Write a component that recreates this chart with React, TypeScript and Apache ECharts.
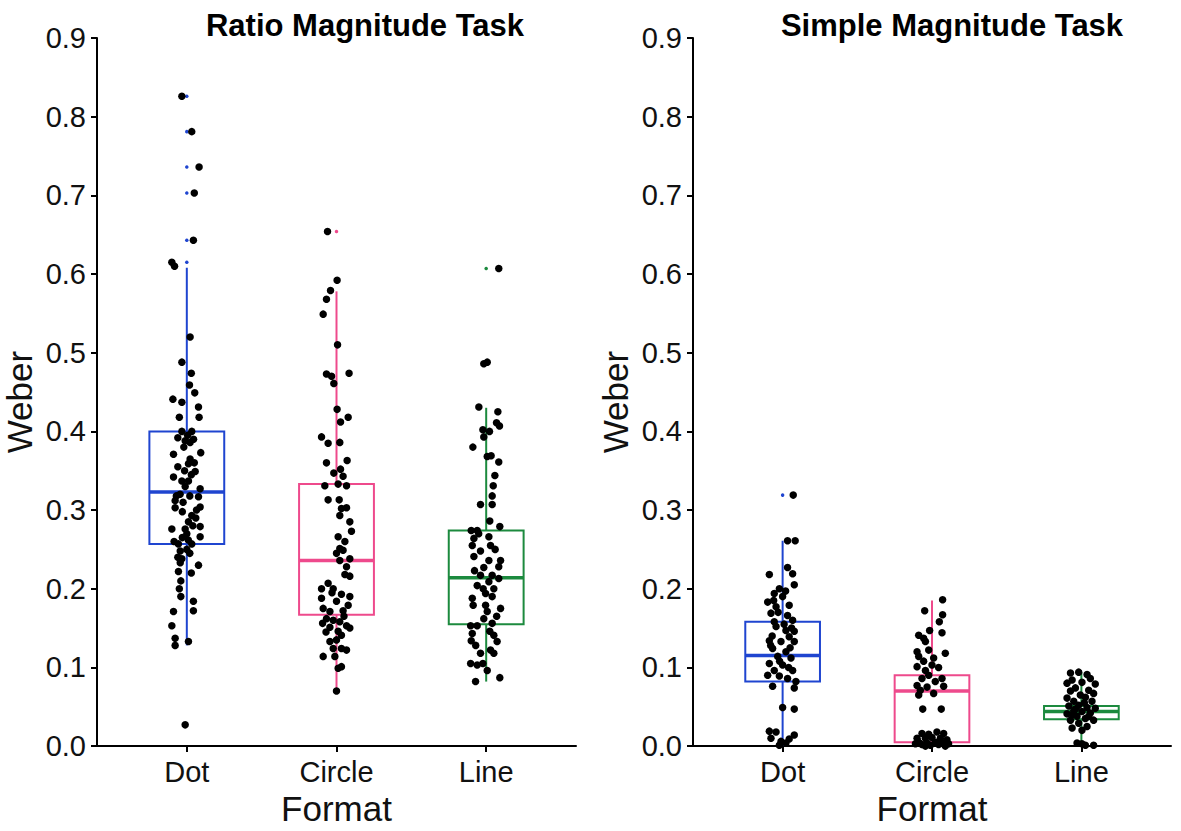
import React, { useEffect, useRef } from "react";
import * as echarts from "echarts";

const categories = ["Dot", "Circle", "Line"];
const panelTitles = ["Ratio Magnitude Task", "Simple Magnitude Task"];
const yAxisTitle = "Weber";
const xAxisTitle = "Format";

// box statistics: [lower whisker, Q1, median, Q3, upper whisker]
const ratioBoxes = [
  [0.128, 0.257, 0.323, 0.4, 0.608],
  [0.07, 0.167, 0.236, 0.333, 0.578],
  [0.082, 0.155, 0.214, 0.274, 0.43],
];
const simpleBoxes = [
  [0.0, 0.082, 0.115, 0.158, 0.261],
  [0.0, 0.005, 0.07, 0.09, 0.185],
  [0.0, 0.034, 0.044, 0.051, 0.094],
];
// outliers: [category index, value]
const ratioOutliers = [
  [0, 0.826], [0, 0.781], [0, 0.736], [0, 0.703], [0, 0.643], [0, 0.615],
  [1, 0.654],
  [2, 0.607],
];
const simpleOutliers = [[0, 0.319]];

// jittered observations: [horizontal jitter (category units), Weber]
const ratioDot = [
  [-0.033, 0.826], [0.033, 0.781], [0.082, 0.736], [0.05, 0.703], [0.044, 0.643], [-0.1, 0.615], [-0.082, 0.61],
  [0.022, 0.52], [-0.033, 0.488], [0.03, 0.474], [0.018, 0.459], [0.053, 0.449], [-0.093, 0.441], [-0.033, 0.437],
  [0.078, 0.431], [-0.05, 0.418], [0.082, 0.418], [-0.033, 0.4], [0.033, 0.4], [-0.011, 0.388], [0.022, 0.386],
  [-0.089, 0.371], [0.093, 0.373], [0.022, 0.365], [0.011, 0.359], [0.056, 0.349], [-0.089, 0.342], [-0.033, 0.337],
  [0.011, 0.337], [-0.011, 0.33], [0.089, 0.327], [0.078, 0.317], [-0.078, 0.312], [-0.078, 0.303], [0.089, 0.304],
  [0.033, 0.293], [0.011, 0.285], [-0.1, 0.276], [-0.011, 0.276], [0.089, 0.279], [0, 0.27], [0.089, 0.266],
  [-0.056, 0.257], [0.033, 0.257], [-0.044, 0.248], [-0.033, 0.238], [-0.044, 0.233], [0.078, 0.23], [-0.056, 0.222],
  [-0.04, 0.21], [0.044, 0.184], [0.044, 0.172], [-0.089, 0.171], [-0.1, 0.153], [-0.078, 0.137], [-0.078, 0.128],
  [0.011, 0.133], [-0.011, 0.027], [0.005, 0.395], [-0.02, 0.38], [-0.06, 0.355], [0.03, 0.345], [-0.045, 0.32],
  [0.02, 0.318], [-0.03, 0.298], [0.06, 0.29], [0.04, 0.28], [-0.03, 0.265], [0.01, 0.262], [0.02, 0.245],
  [0.03, 0.22], [-0.05, 0.2], [-0.04, 0.19], [-0.07, 0.318], [0.05, 0.36], [-0.015, 0.35],
  [-0.06, 0.392], [0.045, 0.39], [-0.025, 0.31], [0.065, 0.3], [-0.085, 0.26], [0.0, 0.25], [-0.06, 0.24],
];
const ratioCircle = [
  [-0.06, 0.654], [0.004, 0.592], [-0.04, 0.579], [-0.067, 0.568], [-0.089, 0.549], [0.007, 0.51], [-0.067, 0.473],
  [-0.033, 0.47], [0.084, 0.474], [-0.018, 0.461], [0.004, 0.428], [0.027, 0.412], [0.078, 0.418], [-0.1, 0.393],
  [-0.056, 0.385], [0.022, 0.386], [-0.067, 0.36], [0.071, 0.363], [-0.018, 0.347], [0.027, 0.352], [0.044, 0.343],
  [-0.078, 0.331], [0.011, 0.333], [0.067, 0.331], [-0.056, 0.313], [0.018, 0.313], [0.033, 0.302], [0.067, 0.303],
  [0.022, 0.293], [0.089, 0.285], [0.1, 0.273], [0.011, 0.266], [0.056, 0.26], [0.022, 0.251], [0, 0.245],
  [0.044, 0.249], [0.089, 0.238], [0.022, 0.236], [0.067, 0.228], [0.056, 0.218], [0.089, 0.216], [-0.056, 0.207],
  [-0.1, 0.2], [-0.022, 0.2], [0.033, 0.193], [0.089, 0.19], [-0.1, 0.188], [0, 0.184], [0.078, 0.179],
  [-0.089, 0.175], [-0.044, 0.171], [0.044, 0.172], [-0.067, 0.162], [-0.022, 0.16], [-0.093, 0.156], [0.022, 0.158],
  [0.067, 0.153], [-0.044, 0.151], [0.011, 0.146], [0.089, 0.15], [0.033, 0.141], [-0.044, 0.133], [-0.022, 0.124],
  [0.067, 0.122], [0.033, 0.124], [-0.089, 0.114], [-0.011, 0.114], [0.033, 0.101], [0.011, 0.099], [0, 0.07],
  [-0.03, 0.195], [0.05, 0.165], [-0.07, 0.145], [0.0, 0.135],
];
const ratioLine = [
  [0.084, 0.607], [-0.016, 0.486], [0.007, 0.488], [-0.049, 0.431], [0.078, 0.425], [0.069, 0.411], [0.089, 0.407],
  [-0.022, 0.402], [0.022, 0.4], [-0.016, 0.393], [-0.089, 0.38], [0.007, 0.368], [0.033, 0.369], [0.084, 0.361],
  [0.058, 0.344], [0.047, 0.331], [0.04, 0.318], [-0.038, 0.307], [0.04, 0.307], [0.024, 0.286], [0.091, 0.279],
  [-0.1, 0.274], [-0.06, 0.274], [-0.082, 0.264], [0.018, 0.266], [-0.093, 0.255], [0.029, 0.255], [-0.038, 0.248],
  [-0.082, 0.241], [0.018, 0.236], [0.096, 0.236], [-0.016, 0.227], [0.084, 0.228], [-0.078, 0.223], [-0.038, 0.217],
  [0.04, 0.217], [0.084, 0.213], [0.018, 0.209], [-0.06, 0.204], [0.051, 0.2], [-0.004, 0.194], [0.04, 0.19],
  [-0.093, 0.188], [-0.087, 0.179], [-0.004, 0.179], [0.096, 0.175], [0.007, 0.171], [-0.016, 0.162], [-0.104, 0.153],
  [-0.06, 0.153], [0.04, 0.156], [-0.093, 0.143], [0.024, 0.146], [0.051, 0.141], [-0.1, 0.134], [0.073, 0.133],
  [0.029, 0.122], [-0.038, 0.118], [0.051, 0.118], [-0.104, 0.105], [-0.06, 0.103], [-0.022, 0.105], [0.007, 0.096],
  [0.091, 0.087], [-0.071, 0.082], [-0.05, 0.27], [0.06, 0.25], [-0.02, 0.2], [0.07, 0.165], [-0.07, 0.128],
];
const simpleDot = [
  [0.071, 0.319], [0.033, 0.261], [0.084, 0.261], [-0.089, 0.218], [0.033, 0.227], [0.067, 0.219], [0.078, 0.205],
  [-0.022, 0.2], [-0.056, 0.194], [0, 0.19], [-0.1, 0.183], [-0.044, 0.177], [0.044, 0.179], [-0.078, 0.169],
  [0.033, 0.166], [-0.056, 0.158], [0.067, 0.16], [-0.044, 0.152], [0.022, 0.147], [0.078, 0.146], [0.044, 0.139],
  [-0.089, 0.134], [-0.011, 0.133], [0.078, 0.133], [-0.067, 0.124], [0.022, 0.12], [-0.033, 0.114], [0.056, 0.112],
  [-0.089, 0.105], [0, 0.103], [-0.056, 0.096], [0.067, 0.096], [-0.1, 0.09], [-0.022, 0.089], [0.033, 0.086],
  [0.089, 0.082], [-0.067, 0.076], [0.078, 0.074], [0, 0.049], [0.078, 0.047], [-0.089, 0.019], [-0.044, 0.018],
  [0.078, 0.014], [-0.078, 0.01], [-0.011, 0.006], [0.022, 0.004], [-0.022, 0.001], [0.044, 0.009],
  [-0.03, 0.17], [0.01, 0.155], [-0.07, 0.14], [0.05, 0.125], [-0.02, 0.108], [0.04, 0.1], [-0.06, 0.185],
  [0.02, 0.197], [-0.08, 0.128], [0.06, 0.15],
];
const simpleCircle = [
  [0.071, 0.186], [-0.049, 0.172], [0.071, 0.167], [0.049, 0.158], [-0.016, 0.147], [0.067, 0.144], [-0.089, 0.141],
  [-0.056, 0.137], [-0.044, 0.133], [-0.1, 0.12], [-0.022, 0.122], [0.089, 0.118], [-0.089, 0.114], [0.011, 0.112],
  [-0.056, 0.108], [-0.1, 0.101], [0, 0.103], [0.044, 0.1], [-0.044, 0.096], [-0.022, 0.09], [-0.067, 0.086],
  [0.067, 0.086], [0.022, 0.082], [-0.1, 0.077], [0.078, 0.076], [-0.033, 0.075], [-0.078, 0.071], [-0.089, 0.065],
  [0.011, 0.067], [-0.062, 0.047], [0.062, 0.047], [-0.067, 0.016], [-0.022, 0.015], [0.033, 0.018], [0.078, 0.016],
  [-0.1, 0.01], [-0.044, 0.01], [0, 0.011], [0.056, 0.01], [0.1, 0.008], [-0.089, 0.005], [-0.033, 0.004],
  [0.022, 0.005], [0.078, 0.004], [-0.067, 0.002], [-0.011, 0.001], [0.044, 0.002], [-0.111, 0.003], [0.111, 0.003],
  [-0.044, 0.0], [0.089, 0.0],
];
const simpleLine = [
  [-0.073, 0.093], [-0.018, 0.094], [0.038, 0.091], [0.06, 0.086], [-0.062, 0.084], [-0.096, 0.08], [0.004, 0.081],
  [0.093, 0.079], [-0.04, 0.074], [0.049, 0.071], [-0.073, 0.07], [0.082, 0.067], [-0.007, 0.065], [-0.096, 0.061],
  [0.027, 0.062], [-0.051, 0.057], [0.071, 0.057], [-0.018, 0.052], [-0.084, 0.051], [0.038, 0.049], [0.093, 0.048],
  [-0.051, 0.045], [0.004, 0.044], [-0.096, 0.041], [0.06, 0.042], [-0.029, 0.038], [0.027, 0.035], [-0.073, 0.033],
  [0.082, 0.033], [-0.018, 0.029], [-0.062, 0.023], [0.038, 0.025], [0.004, 0.02], [-0.029, 0.004], [0.004, 0.003],
  [0.082, 0.001], [0.027, 0.001], [-0.04, 0.047], [0.02, 0.055], [-0.06, 0.04], [0.05, 0.038],
];

const boxColors = ["#1f45d0", "#ee4a8c", "#1c8a3e"];
const FONT = "'Liberation Sans', Arial, Helvetica, sans-serif";

const toPoints = (groups: number[][][]) =>
  groups.flatMap((pts, i) => pts.map(([j, v]) => [i + j, v]));

const renderBox = (params: any, api: any) => {
  const c = api.value(0);
  const low = api.coord([c, api.value(1)]);
  const q1 = api.coord([c, api.value(2)]);
  const med = api.coord([c, api.value(3)]);
  const q3 = api.coord([c, api.value(4)]);
  const high = api.coord([c, api.value(5)]);
  const halfW = api.size([0.5, 0])[0] / 2;
  const color = boxColors[c];
  const st = { stroke: color, lineWidth: 2, fill: "none" };
  return {
    type: "group",
    children: [
      { type: "line", shape: { x1: q3[0], y1: q3[1], x2: high[0], y2: high[1] }, style: st },
      { type: "line", shape: { x1: q1[0], y1: q1[1], x2: low[0], y2: low[1] }, style: st },
      {
        type: "rect",
        shape: { x: q1[0] - halfW, y: q3[1], width: halfW * 2, height: q1[1] - q3[1] },
        style: st,
      },
      {
        type: "line",
        shape: { x1: med[0] - halfW, y1: med[1], x2: med[0] + halfW, y2: med[1] },
        style: { stroke: color, lineWidth: 3.5 },
      },
    ],
  };
};

export default function App() {
  const ref = useRef<HTMLDivElement>(null);
  useEffect(() => {
    if (!ref.current) return;
    const chart = echarts.init(ref.current, undefined, { renderer: "svg" });
    const grids = [
      { left: 97, right: 1181 - 576, top: 38, bottom: 831 - 748 },
      { left: 693, right: 1181 - 1171, top: 38, bottom: 831 - 748 },
    ];
    const axisLineStyle = { color: "#000", width: 2 };
    const xAxes = grids.map((_, i) => ({
      type: "value",
      gridIndex: i,
      min: -0.6,
      max: 2.6,
      splitLine: { show: false },
      axisLine: { show: true, onZero: false, lineStyle: axisLineStyle },
      axisTick: { show: true, customValues: [0, 1, 2], length: 6, lineStyle: axisLineStyle },
      axisLabel: {
        customValues: [0, 1, 2],
        formatter: (v: number) => categories[Math.round(v)],
        fontSize: 29,
        color: "#111",
        fontFamily: FONT,
        margin: 11,
      },
      name: xAxisTitle,
      nameLocation: "middle",
      nameGap: 44,
      nameTextStyle: { fontSize: 35, color: "#111", fontFamily: FONT },
    }));
    const yAxes = grids.map((_, i) => ({
      type: "value",
      gridIndex: i,
      min: 0,
      max: 0.9,
      interval: 0.1,
      splitLine: { show: false },
      axisLine: { show: true, onZero: false, lineStyle: axisLineStyle },
      axisTick: { show: true, length: 6, lineStyle: axisLineStyle },
      axisLabel: {
        formatter: (v: number) => v.toFixed(1),
        fontSize: 29,
        color: "#111",
        fontFamily: FONT,
        margin: 11,
      },
      name: yAxisTitle,
      nameLocation: "middle",
      nameGap: 60,
      nameTextStyle: { fontSize: 35, color: "#111", fontFamily: FONT, padding: [0, 20, 0, 0] },
    }));
    const panels = [
      { boxes: ratioBoxes, outliers: ratioOutliers, pts: [ratioDot, ratioCircle, ratioLine] },
      { boxes: simpleBoxes, outliers: simpleOutliers, pts: [simpleDot, simpleCircle, simpleLine] },
    ];
    const series: any[] = [];
    panels.forEach((p, i) => {
      series.push({
        type: "custom",
        xAxisIndex: i,
        yAxisIndex: i,
        renderItem: renderBox,
        data: p.boxes.map((b, k) => [k, ...b]),
        encode: { x: 0, y: [1, 2, 3, 4, 5] },
        z: 2,
        silent: true,
        clip: false,
      });
      series.push({
        type: "scatter",
        xAxisIndex: i,
        yAxisIndex: i,
        data: p.outliers,
        symbolSize: 3.5,
        itemStyle: { color: (d: any) => boxColors[d.data[0]], opacity: 1 },
        z: 3,
        silent: true,
        clip: false,
      });
      series.push({
        type: "scatter",
        xAxisIndex: i,
        yAxisIndex: i,
        data: toPoints(p.pts),
        symbolSize: 7.5,
        itemStyle: { color: "#000", opacity: 1 },
        z: 4,
        silent: true,
        clip: false,
      });
    });
    const titleStyle = {
      fontSize: 31,
      fontWeight: "bold",
      fontFamily: FONT,
      fill: "#000",
      textAlign: "center",
      textVerticalAlign: "middle",
    };
    chart.setOption({
      animation: false,
      backgroundColor: "#fff",
      grid: grids,
      xAxis: xAxes,
      yAxis: yAxes,
      series,
      graphic: [
        { type: "text", x: 365, y: 25, style: { ...titleStyle, text: panelTitles[0] } },
        { type: "text", x: 952, y: 25, style: { ...titleStyle, text: panelTitles[1] } },
      ],
    });
    return () => chart.dispose();
  }, []);
  return (
    <div
      ref={ref}
      style={{ position: "absolute", left: 0, top: 0, width: 1181, height: 831 }}
    />
  );
}
